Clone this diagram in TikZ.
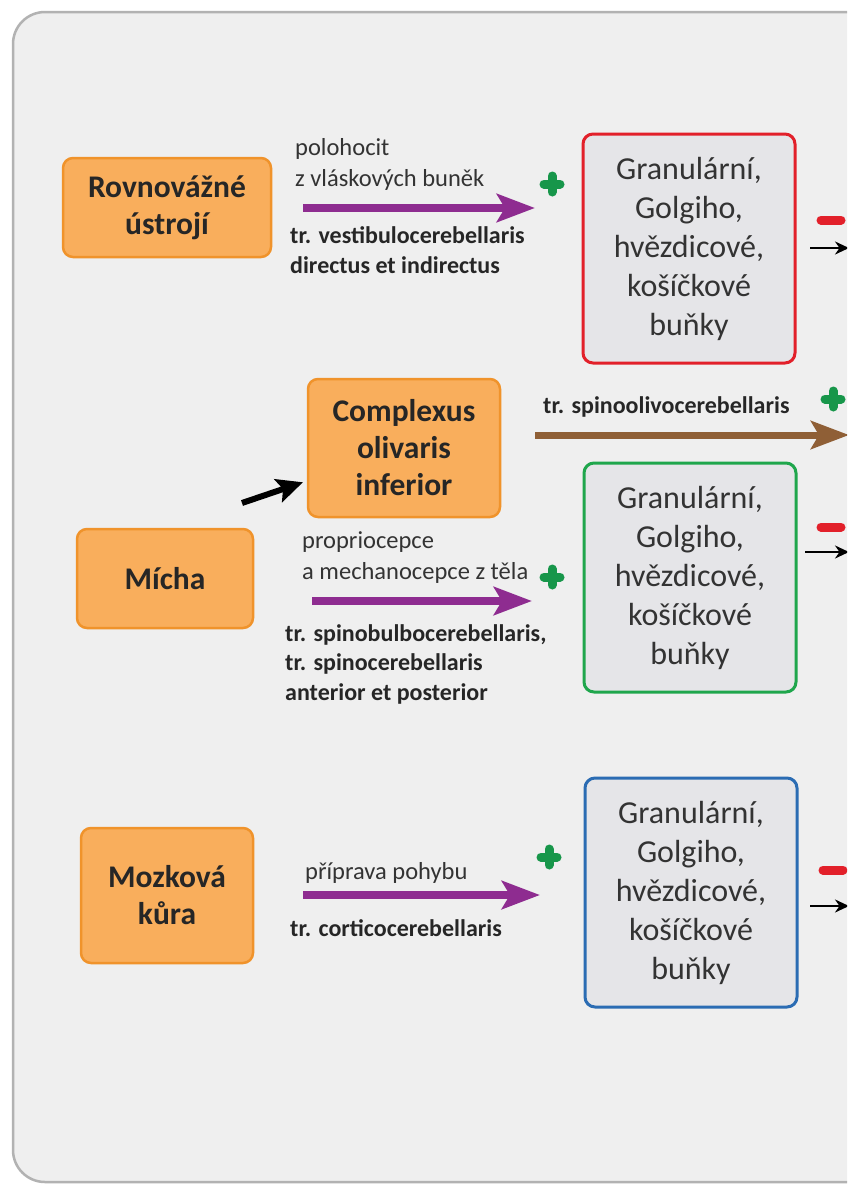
\documentclass[tikz,border=0pt]{standalone}
\usepackage{fontspec, tkz-euclide}
\setmainfont{Carlito}
\usetikzlibrary{arrows.meta}

\definecolor{oranzova}{HTML}{F9AE5C}
\definecolor{oranzovaokraj}{HTML}{F0932B}
\definecolor{sedabunka}{HTML}{E5E5E8}
\definecolor{panel}{HTML}{EFEFEF}
\definecolor{fialova}{HTML}{8E2C90}
\definecolor{hneda}{HTML}{8F5F36}
\definecolor{zelena}{HTML}{17964A}
\definecolor{zelenaokraj}{HTML}{1FA64C}
\definecolor{cervena}{HTML}{E2202A}
\definecolor{modra}{HTML}{2B6CB3}

\tikzset{
  zdroj/.style={draw=oranzovaokraj, line width=2.5pt, fill=oranzova, rounded corners=10pt,
    align=center, inner sep=0pt, font=\fontsize{31.5}{37}\selectfont\bfseries, text=black!85},
  bunky/.style={draw=#1, line width=3pt, fill=sedabunka, rounded corners=10pt,
    minimum width=212pt, minimum height=229pt, align=center, inner sep=0pt,
    font=\fontsize{32}{39}\selectfont, text=black!80},
  popis/.style={align=left, anchor=west, inner sep=0pt, font=\fontsize{24.5}{31}\selectfont, text=black!80},
  drah/.style={align=left, anchor=west, inner sep=0pt, font=\fontsize{24}{29.5}\selectfont\bfseries, text=black!85},
  sipka/.style={draw=#1, line width=8pt, -{Stealth[length=38pt,width=28pt,inset=8pt]}},
  vystup/.style={line width=2.5pt, -{Stealth[length=14pt,width=13pt]}},
  zplus/.pic={\draw[zelena, line width=9pt, line cap=round] (-8,0) -- (8,0) (0,-8) -- (0,8);},
  cminus/.pic={\draw[cervena, line width=9pt, line cap=round] (-10,0) -- (10,0);}
}

\begin{document}
\begin{tikzpicture}[x=1pt, y=-1pt]
    \useasboundingbox (0,0) rectangle (847,1184);
    \clip (0,0) rectangle (847,1184);
    \fill[white] (0,0) rectangle (847,1184);
    \draw[black!30, line width=2.5pt, fill=panel, rounded corners=32pt] (13,12) rectangle (900,1182);

    % vstupy
    \node[zdroj, minimum width=208pt, minimum height=99pt] (rovn) at (167,207.5) {Rovnovážné\\ústrojí};
    \node[zdroj, minimum width=192pt, minimum height=138pt] (oliva) at (404,448) {Complexus\\olivaris\\inferior};
    \node[zdroj, minimum width=176pt, minimum height=99pt] (micha) at (165,578.5) {Mícha};
    \node[zdroj, minimum width=172pt, minimum height=135pt] (kura) at (167,895.5) {Mozková\\kůra};

    % bunky
    \node[bunky=cervena] (bunky1) at (689,248.5) {Granulární,\\Golgiho,\\hvězdicové,\\košíčkové\\buňky};
    \node[bunky=zelenaokraj] (bunky2) at (690,577.5) {Granulární,\\Golgiho,\\hvězdicové,\\košíčkové\\buňky};
    \node[bunky=modra] (bunky3) at (691,892.5) {Granulární,\\Golgiho,\\hvězdicové,\\košíčkové\\buňky};

    % popisky drah
    \node[popis] (pop1) at (295,164) {polohocit\\z vláskových buněk};
    \node[drah] (dr1) at (290,250) {tr. vestibulocerebellaris\\directus et indirectus};
    \node[drah] (dr2) at (543,407) {tr. spinoolivocerebellaris};
    \node[popis] (pop2) at (302,558) {propriocepce\\a mechanocepce z těla};
    \node[drah] (dr3) at (285,664) {tr. spinobulbocerebellaris,\\tr. spinocerebellaris\\anterior et posterior};
    \node[popis] (pop3) at (305,873) {příprava pohybu};
    \node[drah] (dr4) at (290,928) {tr. corticocerebellaris};

    \tkzDefPoints{303/208/V1, 535/208/V2, 535/435/O1, 849/435/O2, 312/601/S1, 532/601/S2,
      303/895/K1, 540/895/K2, 242/503/M1, 810/248/X1, 849/248/X2, 805/552/Y1, 849/552/Y2,
      810/906/Z1, 849/906/Z2}

    \draw[sipka=fialova] (V1) -- (V2);
    \draw[sipka=hneda, line width=7pt] (O1) -- (O2);
    \draw[sipka=fialova] (S1) -- (S2);
    \draw[sipka=fialova] (K1) -- (K2);
    \draw[line width=6pt, shorten >=4pt, -{Stealth[length=26pt,width=24pt,inset=5pt]}] (M1) -- (oliva);
    \draw[vystup] (X1) -- (X2);
    \draw[vystup] (Y1) -- (Y2);
    \draw[vystup] (Z1) -- (Z2);

    \pic at (552,184) {zplus};
    \pic at (833,399) {zplus};
    \pic at (552,577) {zplus};
    \pic at (549,857) {zplus};
    \pic at (831,220) {cminus};
    \pic at (831,527) {cminus};
    \pic at (833,870) {cminus};
\end{tikzpicture}
\end{document}
